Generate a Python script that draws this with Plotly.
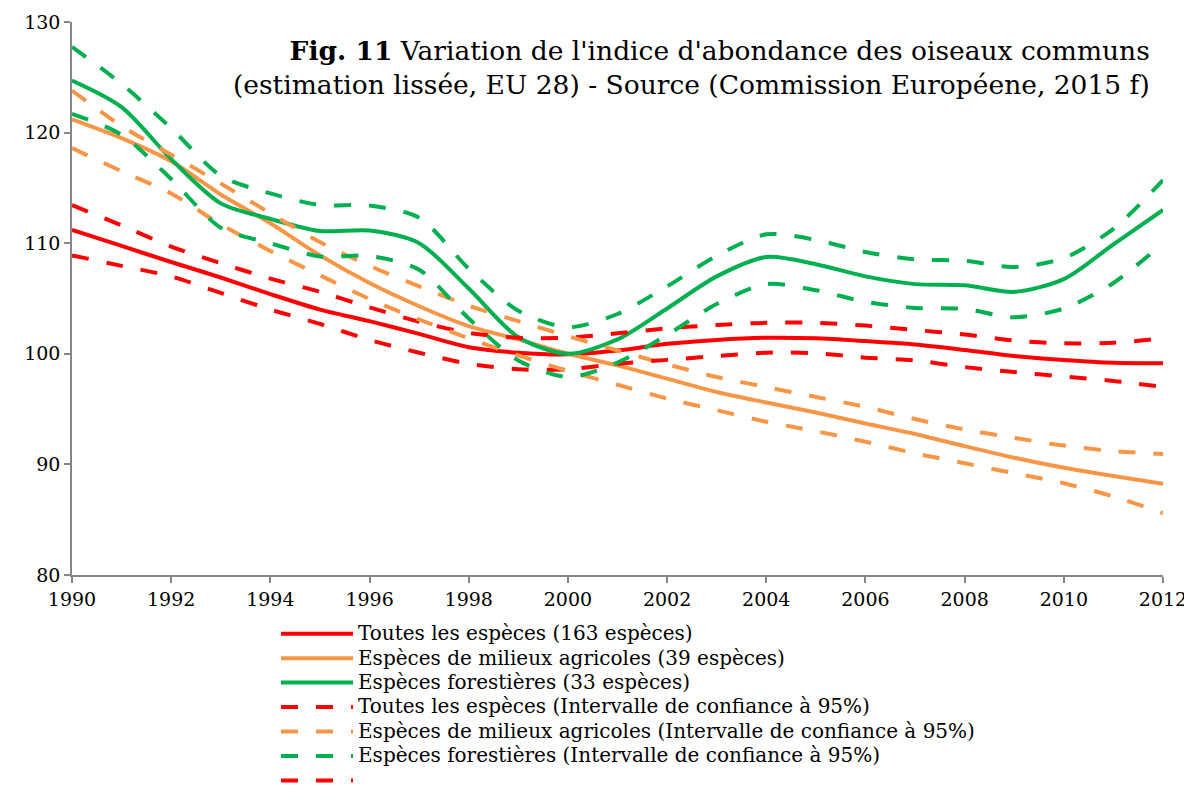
import plotly.graph_objects as go

years = list(range(1990, 2013))

toutes = [111.2, 109.75, 108.3, 106.9, 105.4, 104.0, 102.95, 101.8, 100.6, 100.1, 99.95,
          100.3, 100.9, 101.25, 101.45, 101.4, 101.15, 100.85, 100.35, 99.8, 99.45, 99.2, 99.15]
toutes_hi = [113.45, 111.6, 109.7, 108.2, 106.8, 105.6, 104.2, 102.9, 101.9, 101.45, 101.45,
             101.85, 102.3, 102.6, 102.8, 102.8, 102.55, 102.15, 101.75, 101.2, 100.95, 101.0, 101.4]
toutes_lo = [108.9, 107.95, 107.0, 105.5, 104.0, 102.7, 101.25, 100.1, 99.1, 98.6, 98.6,
             99.1, 99.45, 99.8, 100.1, 100.05, 99.65, 99.4, 98.8, 98.35, 97.95, 97.55, 97.0]

agri = [121.2, 119.5, 117.4, 114.4, 111.8, 108.9, 106.4, 104.3, 102.5, 101.3, 100.0,
        98.95, 97.75, 96.55, 95.6, 94.7, 93.7, 92.75, 91.65, 90.6, 89.7, 88.95, 88.25]
agri_hi = [123.8, 120.6, 118.0, 115.4, 112.7, 110.1, 107.95, 106.1, 104.35, 102.95, 101.6,
           100.3, 99.05, 97.9, 97.0, 96.1, 95.2, 94.1, 93.15, 92.4, 91.7, 91.2, 90.95]
agri_lo = [118.6, 116.5, 114.5, 111.7, 109.3, 107.1, 104.95, 103.1, 101.4, 99.85, 98.45,
           97.2, 95.95, 94.9, 93.85, 93.0, 92.05, 91.0, 90.1, 89.2, 88.3, 87.1, 85.6]

foret = [124.7, 122.3, 117.6, 113.6, 112.2, 111.1, 111.15, 110.0, 105.9, 101.5, 100.0,
         101.3, 104.1, 107.0, 108.75, 108.1, 107.0, 106.3, 106.2, 105.6, 106.75, 109.9, 113.0]
foret_hi = [127.75, 124.4, 120.4, 116.1, 114.5, 113.45, 113.4, 112.3, 107.7, 103.9, 102.4,
            103.6, 106.1, 108.85, 110.8, 110.3, 109.2, 108.55, 108.4, 107.85, 108.65, 111.3, 115.7]
foret_lo = [121.7, 119.8, 115.8, 111.4, 110.0, 108.8, 108.85, 107.6, 103.2, 99.4, 97.9,
            99.2, 101.7, 104.5, 106.3, 105.75, 104.7, 104.15, 104.05, 103.3, 104.1, 106.4, 110.0]

xticks = list(range(1990, 2013, 2))
yticks = [80, 90, 100, 110, 120, 130]

RED = "#FF0000"
ORANGE = "#F79646"
GREEN = "#00B050"
DASH = "17px,18px"
FONT = "DejaVu Serif"

fig = go.Figure()

def lg(text):
    return '<span style="font-size:20px">' + text + "</span>"

def add(y, color, name, dash=None, show=True):
    fig.add_trace(go.Scatter(
        x=years, y=y, mode="lines", name=name, showlegend=show,
        line=dict(color=color, width=4, shape="spline", smoothing=0.8,
                  dash=dash if dash else "solid"),
    ))

add(toutes, RED, lg("Toutes les espèces (163 espèces)"))
add(agri, ORANGE, lg("Espèces de milieux agricoles (39 espèces)"))
add(foret, GREEN, lg("Espèces forestières (33 espèces)"))
add(toutes_hi, RED, lg("Toutes les espèces (Intervalle de confiance à 95%)"), DASH)
add(agri_hi, ORANGE, lg("Espèces de milieux agricoles (Intervalle de confiance à 95%)"), DASH)
add(foret_hi, GREEN, lg("Espèces forestières (Intervalle de confiance à 95%)"), DASH)
add(toutes_lo, RED, " ", DASH)
add(agri_lo, ORANGE, "agri_lo", DASH, show=False)
add(foret_lo, GREEN, "foret_lo", DASH, show=False)

fig.add_annotation(
    xref="paper", yref="paper", x=0.9895, y=1.0, xanchor="right", yanchor="top",
    yshift=-11, align="right", showarrow=False,
    text="<b>Fig. 11</b> Variation de l'indice d'abondance des oiseaux communs<br>"
         "(estimation lissée, EU 28) - Source (Commission Européene, 2015 f)",
    font=dict(family=FONT, size=26.5, color="black"),
)

axis_common = dict(
    showgrid=False, zeroline=False, showline=True, linecolor="#868686", linewidth=1.5,
    ticks="outside", ticklen=6, tickcolor="#868686", tickwidth=1.5,
    tickfont=dict(family=FONT, size=19, color="black"),
)

# page body has an 8px margin: figure is sized/offset so the plot lands at the reference pixels
fig.update_layout(
    width=1192, height=777,
    margin=dict(l=64, r=37, t=14, b=210, autoexpand=False),
    plot_bgcolor="white", paper_bgcolor="white",
    xaxis=dict(range=[1990, 2012], tickvals=xticks, ticktext=[str(v) for v in xticks], **axis_common),
    yaxis=dict(range=[80, 130], tickvals=yticks, **axis_common),
    showlegend=True,
    legend=dict(
        x=0.187, y=-0.075, xanchor="left", yanchor="top",
        font=dict(family=FONT, size=16.5, color="black"),
        itemwidth=72, tracegroupgap=0, bgcolor="rgba(0,0,0,0)",
    ),
)

fig.write_html("out.html")
